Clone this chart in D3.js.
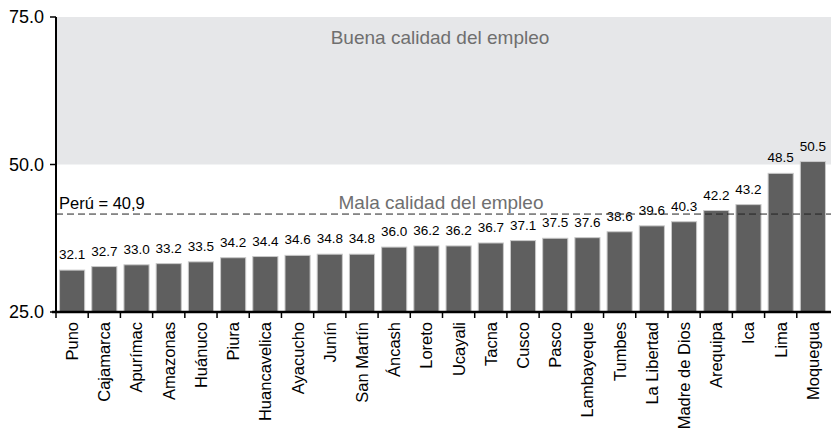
<!DOCTYPE html>
<html>
<head>
<meta charset="utf-8">
<script src="https://cdn.jsdelivr.net/npm/d3@7"></script>
<style>
    body { margin: 0; background: #fff; }
    text { font-family: "Liberation Sans", Arial, sans-serif; }
</style>
</head>
<body>
<svg id="chart" width="831" height="434"></svg>
<script>
const regions = ['Puno', 'Cajamarca', 'Apurímac', 'Amazonas', 'Huánuco', 'Piura', 'Huancavelica',
    'Ayacucho', 'Junín', 'San Martín', 'Áncash', 'Loreto', 'Ucayali', 'Tacna', 'Cusco', 'Pasco',
    'Lambayeque', 'Tumbes', 'La Libertad', 'Madre de Dios', 'Arequipa', 'Ica', 'Lima', 'Moquegua'];
const values = [32.1, 32.7, 33.0, 33.2, 33.5, 34.2, 34.4, 34.6, 34.8, 34.8, 36.0, 36.2, 36.2,
    36.7, 37.1, 37.5, 37.6, 38.6, 39.6, 40.3, 42.2, 43.2, 48.5, 50.5];
const yTicks = [25, 50, 75];
const goodThreshold = 50;
const peruLabel = 'Perú = 40,9';
const peruLine = 41.6;  // where the dashed line sits in the picture

const O = {
    left: 56,
    right: 829,
    top: 17,
    bottom: 312,
    barFill: '#5f5f5f',
    barStroke: '#c9c9c9',
    bandFill: '#e6e7e9',
    noteColor: '#6f6f6f'
};

const svg = d3.select('#chart');

const x = d3.scaleBand()
    .domain(regions)
    .range([O.left, O.right])
    .paddingInner(0.22)
    .paddingOuter(0.11);

const y = d3.scaleLinear()
    .domain([25, 75])
    .range([O.bottom, O.top]);

// shaded "good quality" zone
svg.append('rect')
    .attr('x', O.left)
    .attr('y', y(75))
    .attr('width', 831 - O.left)
    .attr('height', y(goodThreshold) - y(75))
    .attr('fill', O.bandFill);

svg.append('text')
    .attr('x', 440)
    .attr('y', 44)
    .attr('text-anchor', 'middle')
    .attr('font-size', 19)
    .attr('fill', O.noteColor)
    .text('Buena calidad del empleo');

svg.append('text')
    .attr('x', 441)
    .attr('y', 209)
    .attr('text-anchor', 'middle')
    .attr('font-size', 19)
    .attr('fill', O.noteColor)
    .text('Mala calidad del empleo');

// bars
svg.append('g')
    .selectAll('rect')
    .data(regions)
    .join('rect')
    .attr('x', d => x(d))
    .attr('y', (d, i) => y(values[i]))
    .attr('width', x.bandwidth())
    .attr('height', (d, i) => y(25) - y(values[i]))
    .attr('fill', O.barFill)
    .attr('stroke', O.barStroke)
    .attr('stroke-width', 1);

// value labels
svg.append('g')
    .selectAll('text')
    .data(regions)
    .join('text')
    .attr('x', d => x(d) + x.bandwidth() / 2)
    .attr('y', (d, i) => y(values[i]) - 11)
    .attr('text-anchor', 'middle')
    .attr('font-size', 13.5)
    .attr('fill', '#000')
    .text((d, i) => values[i].toFixed(1));

// national average
svg.append('line')
    .attr('x1', O.left)
    .attr('x2', 831)
    .attr('y1', y(peruLine))
    .attr('y2', y(peruLine))
    .attr('stroke', '#222')
    .attr('stroke-width', 1)
    .attr('stroke-dasharray', '7,4');

svg.append('text')
    .attr('x', 59)
    .attr('y', y(peruLine) - 5)
    .attr('font-size', 16.5)
    .attr('fill', '#000')
    .text(peruLabel);

// y axis
const yAxis = svg.append('g');
yAxis.append('line')
    .attr('x1', O.left).attr('x2', O.left)
    .attr('y1', y(75)).attr('y2', y(25) + 1)
    .attr('stroke', '#000').attr('stroke-width', 2);
yAxis.selectAll('.tick')
    .data(yTicks)
    .join('line')
    .attr('x1', O.left - 6).attr('x2', O.left)
    .attr('y1', d => y(d)).attr('y2', d => y(d))
    .attr('stroke', '#000').attr('stroke-width', 1.5);
yAxis.selectAll('text')
    .data(yTicks)
    .join('text')
    .attr('x', 44)
    .attr('y', d => y(d))
    .attr('dy', '0.36em')
    .attr('text-anchor', 'end')
    .attr('font-size', 18)
    .attr('fill', '#000')
    .text(d => d.toFixed(1));

// x axis
const xAxis = svg.append('g');
const gap = (x.step() - x.bandwidth()) / 2;
xAxis.append('line')
    .attr('x1', O.left - 4).attr('x2', 831)
    .attr('y1', y(25)).attr('y2', y(25))
    .attr('stroke', '#000').attr('stroke-width', 2.5);
xAxis.selectAll('.tick')
    .data(regions)
    .join('line')
    .attr('x1', d => x(d) - gap).attr('x2', d => x(d) - gap)
    .attr('y1', y(25)).attr('y2', y(25) + 6)
    .attr('stroke', '#000').attr('stroke-width', 1.5);
xAxis.selectAll('text')
    .data(regions)
    .join('text')
    .attr('transform', d => `translate(${x(d) + x.bandwidth() / 2}, ${y(25) + 10}) rotate(-90)`)
    .attr('dy', '0.36em')
    .attr('text-anchor', 'end')
    .attr('font-size', 16.5)
    .attr('fill', '#000')
    .text(d => d);
</script>
</body>
</html>
